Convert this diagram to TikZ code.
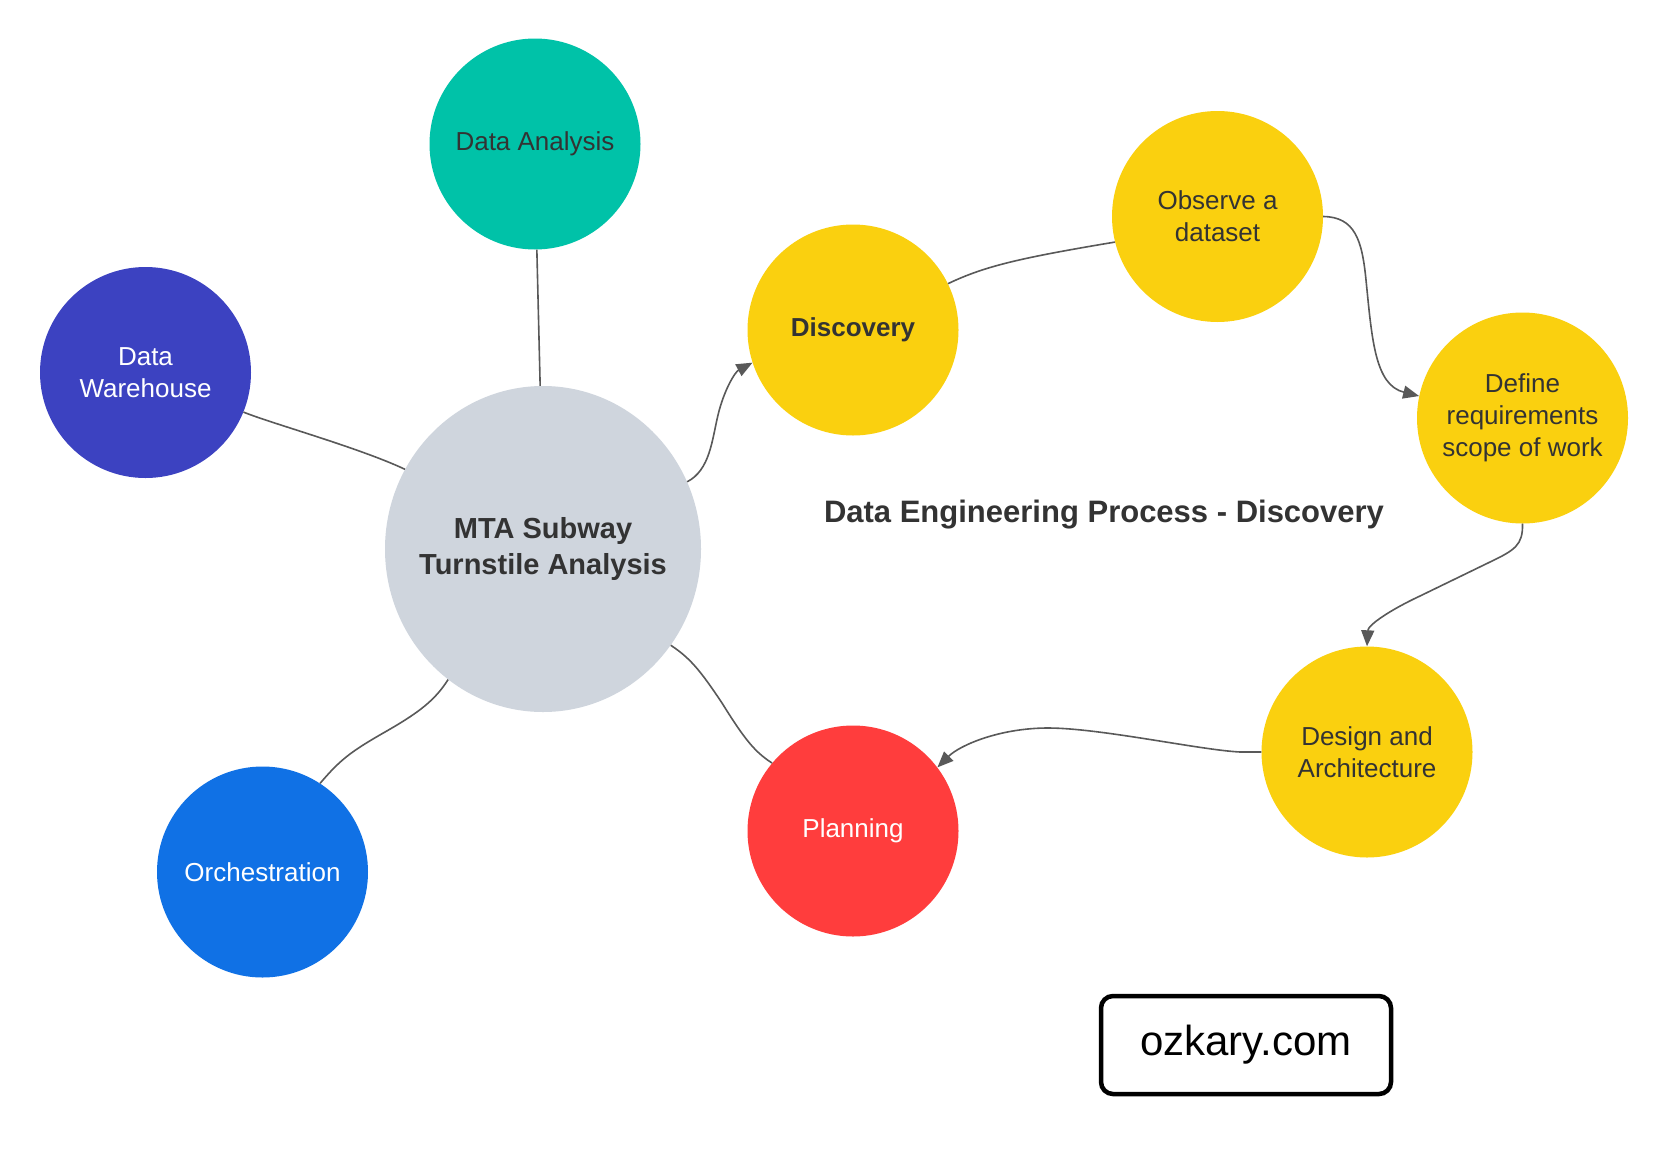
\documentclass[tikz,border=0pt]{standalone}
\usepackage{fontspec}
\setmainfont{Liberation Sans}
\usetikzlibrary{arrows.meta,shapes.geometric}
\definecolor{txt}{HTML}{333333}
\definecolor{lnk}{HTML}{595959}
\definecolor{cteal}{HTML}{00C2A8}
\definecolor{cindigo}{HTML}{3C42C1}
\definecolor{cblue}{HTML}{1071E5}
\definecolor{cyellow}{HTML}{FAD00F}
\definecolor{cred}{HTML}{FF3D3D}
\definecolor{cgray}{HTML}{CFD5DD}
\begin{document}
\begin{tikzpicture}[x=1pt,y=-1pt,
  bub/.style={circle, minimum size=211pt, inner sep=0pt, align=center,
    font=\fontsize{26}{32}\selectfont, text=txt},
  conn/.style={draw=lnk, line width=1.6pt},
  arr/.style={conn, -{Triangle[length=16pt,width=13pt]}}]
\fill[white] (0,0) rectangle (1669,1159);
\useasboundingbox (0,0) rectangle (1669,1159);

\node[bub, fill=cteal] (da) at (535,144) {Data Analysis};
\node[bub, fill=cindigo, text=white] (dw) at (145.5,372.5) {Data\\Warehouse};
\node[ellipse, inner sep=0pt, fill=cgray, minimum width=316pt, minimum height=326pt] (mta) at (543,549) {};
\node[align=center, text=txt, font=\bfseries\fontsize{29}{36}\selectfont] (mtatext) at (mta.center) {MTA Subway\\Turnstile Analysis};
\node[bub, fill=cblue, text=white] (orc) at (262.5,872) {Orchestration};
\node[bub, fill=cyellow, font=\bfseries\fontsize{26}{32}\selectfont] (disc) at (853,330) {Discovery};
\node[bub, fill=cyellow] (obs) at (1217.5,216.5) {Observe a\\dataset};
\node[bub, fill=cyellow] (def) at (1522.5,418) {Define\\requirements\\scope of work};
\node[bub, fill=cyellow] (des) at (1367,752) {Design and\\Architecture};
\node[bub, fill=cred, text=white] (pla) at (853,831) {Planning};
\node[font=\bfseries\fontsize{31}{37}\selectfont, text=txt] (title) at (1104,515) {Data Engineering Process - Discovery};
\node[draw=black, line width=4.5pt, rounded corners=12pt, minimum width=290pt, minimum height=98pt,
  font=\fontsize{42}{50}\selectfont, text=black] (ozk) at (1246,1045) {ozkary.com};

\draw[conn] (da.-89) -- (mta.91.5);
\draw[conn] (dw.-22) .. controls (270,423) and (360,448) .. (mta.150);
\draw[conn] (orc.57) .. controls (340,760) and (350,752) .. (385,732) .. controls (420,712) and (435,700) .. (mta.234);
\draw[conn] (mta.-37) .. controls (690,658) and (700,670) .. (722,703) .. controls (745,740) and (755,752) .. (pla.140);
\draw[arr] (mta.25) .. controls (710,470) and (712,440) .. (718,415) .. controls (724,390) and (735,372) .. (disc.198);
\draw[conn] (disc.26) .. controls (985,266) and (1020,258) .. (obs.194);
\draw[arr] (obs.0) .. controls (1355,217) and (1362,240) .. (1366,280) .. controls (1372,340) and (1375,385) .. (def.168);
\draw[arr] (def.-90) .. controls (1523,545) and (1515,550) .. (1490,562) -- (1420,596) .. controls (1390,610) and (1368,625) .. (des.90);
\draw[arr] (des.180) -- (1240,752) .. controls (1200,750) and (1100,728) .. (1048,728) .. controls (1000,728) and (960,745) .. (pla.37);
\end{tikzpicture}
\end{document}
